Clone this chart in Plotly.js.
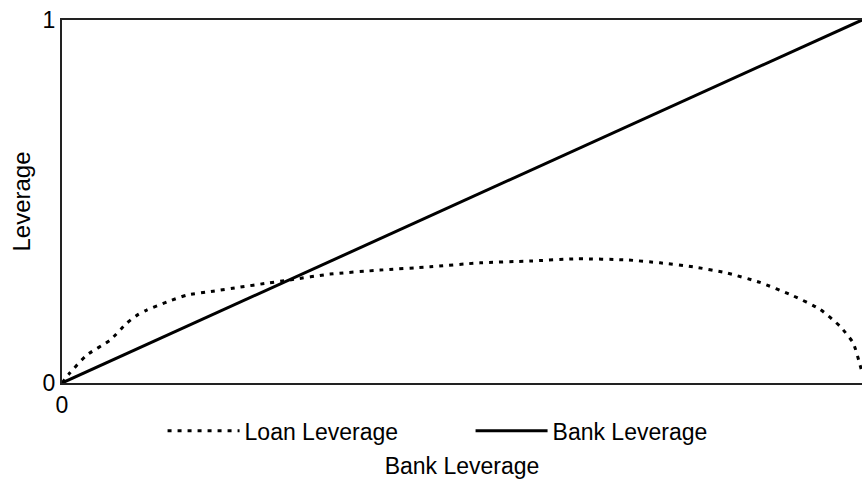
<!DOCTYPE html>
<html>
<head>
<meta charset="utf-8">
<script src="https://cdn.plot.ly/plotly-3.0.1.min.js"></script>
<style>
  html, body { margin: 0; padding: 0; background: #fff; }
  #chart { width: 862px; height: 483px; }
</style>
</head>
<body>
<div id="chart"></div>
<script>
// Data
var loanX = [0, 0.01, 0.031, 0.06, 0.081, 0.094, 0.106, 0.131, 0.156, 0.189, 0.2225, 0.256, 0.285, 0.335, 0.3975, 0.46, 0.5225, 0.585, 0.644, 0.706, 0.7475, 0.789, 0.831, 0.8725, 0.914, 0.9475, 0.9725, 0.989, 0.9975, 1.0];
var loanY = [0, 0.028, 0.077, 0.118, 0.165, 0.187, 0.201, 0.223, 0.242, 0.253, 0.264, 0.275, 0.284, 0.300, 0.311, 0.320, 0.331, 0.336, 0.342, 0.339, 0.331, 0.320, 0.303, 0.277, 0.240, 0.203, 0.156, 0.110, 0.050, 0.03];
var bankX = [0, 1];
var bankY = [0, 1];
var xTickVals = [0];
var xTickText = ['0'];
var yTickVals = [0, 1];
var yTickText = ['0', '1'];
var seriesNames = ['Loan Leverage', 'Bank Leverage'];
var xTitle = 'Bank Leverage';
var yTitle = 'Leverage';

var font = {family: 'Liberation Sans, Arial, sans-serif', size: 23, color: '#000'};

var traces = [
  {x: loanX, y: loanY, name: seriesNames[0], type: 'scatter', mode: 'lines',
   line: {color: '#000', width: 3, dash: '4px,6px', shape: 'spline', smoothing: 0.6}},
  {x: bankX, y: bankY, name: seriesNames[1], type: 'scatter', mode: 'lines',
   line: {color: '#000', width: 3}}
];

var layout = {
  width: 862, height: 483,
  margin: {l: 62, r: 0, t: 20, b: 100},
  paper_bgcolor: '#fff', plot_bgcolor: '#fff',
  font: font,
  showlegend: true,
  legend: {
    orientation: 'h', x: 0.1257, xanchor: 'left', y: -0.132, yanchor: 'middle',
    itemwidth: 72, entrywidth: 221, font: font, bgcolor: 'rgba(0,0,0,0)'
  },
  xaxis: {
    range: [0, 1], showgrid: false, zeroline: false,
    showline: true, linecolor: '#222', linewidth: 2, mirror: true,
    tickvals: xTickVals, ticktext: xTickText, ticks: '',
    tickfont: font,
    title: {text: xTitle, font: font, standoff: 41}
  },
  yaxis: {
    range: [0, 1], showgrid: false, zeroline: false,
    showline: true, linecolor: '#222', linewidth: 2,
    tickvals: yTickVals, ticktext: yTickText, ticks: '',
    tickfont: font,
    title: {text: yTitle, font: {family: font.family, size: 24, color: '#000'}, standoff: 5}
  }
};

Plotly.newPlot('chart', traces, layout, {displayModeBar: false, staticPlot: true});
</script>
</body>
</html>
